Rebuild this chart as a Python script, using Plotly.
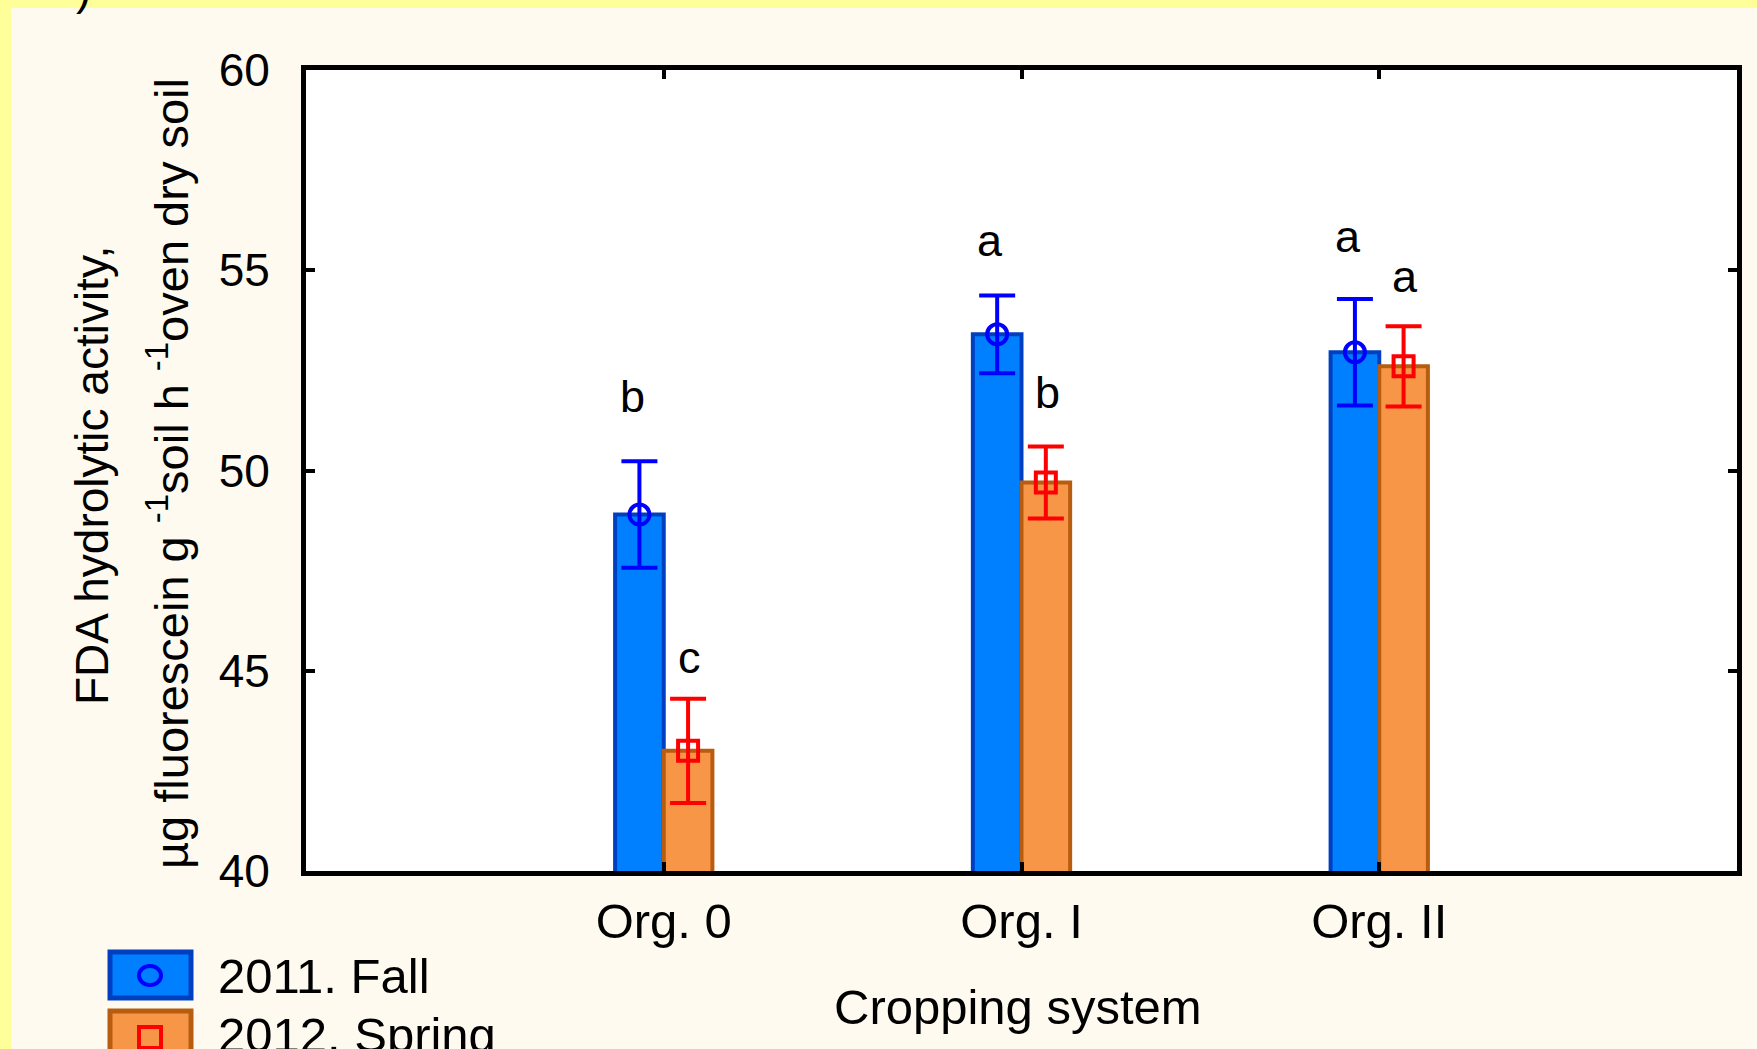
import plotly.graph_objects as go

# ---- data ----
categories = ["Org. 0", "Org. I", "Org. II"]
fall_2011 = [48.9, 53.4, 52.95]
fall_err = [1.33, 0.97, 1.33]
spring_2012 = [43.0, 49.7, 52.6]
spring_err = [1.30, 0.90, 1.00]
fall_letters = ["b", "a", "a"]
spring_letters = ["c", "b", "a"]
fall_letter_y = [51.4, 55.3, 55.4]
spring_letter_y = [44.9, 51.5, 54.4]
y_ticks = [40, 45, 50, 55, 60]

# ---- layout constants ----
W, H = 1757, 1049
L, R, T, B = 306, 20, 70, 178
PW, PH = W - L - R, H - T - B
FONT = "Liberation Sans, Arial, sans-serif"
bar_w = 0.136
idx = list(range(len(categories)))
fall_x = [i - bar_w / 2 for i in idx]
spring_x = [i + bar_w / 2 for i in idx]

def px(x):
    return (x - L) / PW

def py(y):
    return (H - B - y) / PH

fig = go.Figure()
fig.add_trace(go.Bar(x=fall_x, y=fall_2011, width=bar_w, name="2011. Fall",
                     marker=dict(color="#0080FF", line=dict(color="#0040C0", width=4)),
                     showlegend=False))
fig.add_trace(go.Bar(x=spring_x, y=spring_2012, width=bar_w, name="2012. Spring",
                     marker=dict(color="#F79646", line=dict(color="#B85C10", width=4)),
                     showlegend=False))
fig.add_trace(go.Scatter(x=fall_x, y=fall_2011, mode="markers", showlegend=False,
                         marker=dict(symbol="circle-open", size=20, color="#0000FF",
                                     line=dict(width=4, color="#0000FF")),
                         error_y=dict(type="data", array=fall_err, color="#0000FF",
                                      thickness=4, width=18)))
fig.add_trace(go.Scatter(x=spring_x, y=spring_2012, mode="markers", showlegend=False,
                         marker=dict(symbol="square-open", size=20, color="#FF0000",
                                     line=dict(width=4, color="#FF0000")),
                         error_y=dict(type="data", array=spring_err, color="#FF0000",
                                      thickness=4, width=18)))

ann = []
for x, y, t in zip(fall_x, fall_letter_y, fall_letters):
    ann.append(dict(x=x - 0.02, y=y, text=t, xref="x", yref="y", showarrow=False,
                    yanchor="bottom", yshift=-10, font=dict(size=45, color="black", family=FONT)))
for x, y, t in zip(spring_x, spring_letter_y, spring_letters):
    ann.append(dict(x=x + 0.005, y=y, text=t, xref="x", yref="y", showarrow=False,
                    yanchor="bottom", yshift=-10, font=dict(size=45, color="black", family=FONT)))

# y-axis title (two lines)
ann.append(dict(x=px(92), y=py(476), xref="paper", yref="paper", text="FDA hydrolytic activity,",
                textangle=-90, showarrow=False, xanchor="center", yanchor="middle",
                font=dict(size=46, color="black", family=FONT)))
ann.append(dict(x=px(168), y=py(474), xref="paper", yref="paper",
                text="µg fluorescein g <sup>-1</sup>soil h <sup>-1</sup>oven dry soil",
                textangle=-90, showarrow=False, xanchor="center", yanchor="middle",
                font=dict(size=47, color="black", family=FONT)))
# x-axis title
ann.append(dict(x=px(1018), y=py(1007), xref="paper", yref="paper", text="Cropping system",
                showarrow=False, xanchor="center", yanchor="middle",
                font=dict(size=49, color="black", family=FONT)))
# cut-off panel label
ann.append(dict(x=px(84), y=py(-12), xref="paper", yref="paper", text=")",
                showarrow=False, xanchor="center", yanchor="middle",
                font=dict(size=46, color="black", family=FONT)))
# legend texts
ann.append(dict(x=px(216), y=py(976), xref="paper", yref="paper", text="2011. Fall",
                showarrow=False, xanchor="left", yanchor="middle",
                font=dict(size=49, color="black", family=FONT)))
ann.append(dict(x=px(216), y=py(1035), xref="paper", yref="paper", text="2012. Spring",
                showarrow=False, xanchor="left", yanchor="middle",
                font=dict(size=49, color="black", family=FONT)))

shapes = [
    # yellow border strips
    dict(type="rect", xref="paper", yref="paper", x0=px(-20), x1=px(11), y0=py(1100), y1=py(-20),
         fillcolor="#FFFF99", line=dict(width=0), layer="below"),
    dict(type="rect", xref="paper", yref="paper", x0=px(-20), x1=px(1800), y0=py(8), y1=py(-20),
         fillcolor="#FFFF99", line=dict(width=0), layer="below"),
    # legend boxes
    dict(type="rect", xref="paper", yref="paper", x0=px(110), x1=px(191), y0=py(998), y1=py(952),
         fillcolor="#0080FF", line=dict(color="#0040C0", width=5)),
    dict(type="circle", xref="paper", yref="paper", x0=px(139), x1=px(161), y0=py(985), y1=py(966),
         fillcolor="rgba(0,0,0,0)", line=dict(color="#0000FF", width=4)),
    dict(type="rect", xref="paper", yref="paper", x0=px(110), x1=px(191), y0=py(1060), y1=py(1011),
         fillcolor="#F79646", line=dict(color="#B85C10", width=5)),
    dict(type="rect", xref="paper", yref="paper", x0=px(139), x1=px(161), y0=py(1048), y1=py(1027),
         fillcolor="rgba(0,0,0,0)", line=dict(color="#FF0000", width=4)),
]

fig.update_layout(
    width=W, height=H,
    margin=dict(l=L, r=R, t=T, b=B),
    paper_bgcolor="#FEFAF0", plot_bgcolor="white",
    barmode="overlay",
    font=dict(family=FONT, color="black"),
    annotations=ann, shapes=shapes,
)
fig.update_xaxes(range=[-1, 3], tickvals=idx, ticktext=categories, showgrid=False, zeroline=False,
                 showline=True, linewidth=5, linecolor="black", mirror="ticks",
                 ticks="inside", ticklen=9, tickwidth=4, tickcolor="black",
                 ticklabelstandoff=3, tickfont=dict(size=49, family=FONT, color="black"))
fig.update_yaxes(range=[40, 60], tickvals=y_ticks, showgrid=False, zeroline=False,
                 showline=True, linewidth=5, linecolor="black", mirror="ticks",
                 ticks="inside", ticklen=9, tickwidth=4, tickcolor="black",
                 ticklabelstandoff=22, tickfont=dict(size=46, family=FONT, color="black"))

fig.write_html("out.html")
